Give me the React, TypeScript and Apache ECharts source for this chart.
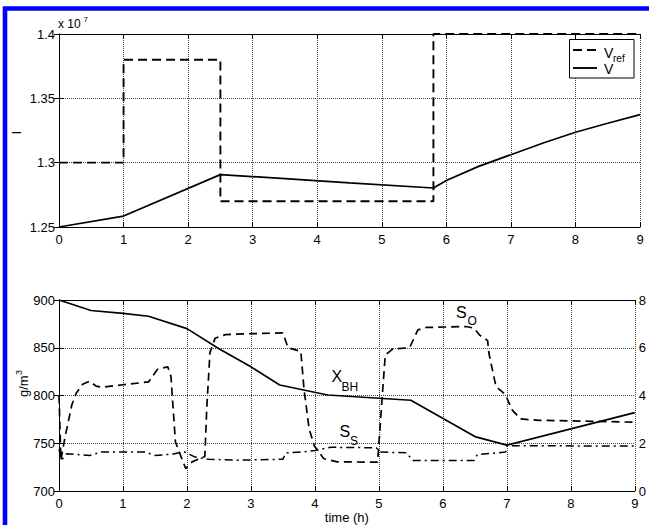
import React, { useEffect, useRef } from 'react';
import * as echarts from 'echarts';

// ---------- Data ----------
// Top panel (values in units of 1e7)
const tVref = [0, 1, 1, 2.5, 2.5, 5.8, 5.8, 9];
const vRef = [1.3, 1.3, 1.38, 1.38, 1.27, 1.27, 1.4, 1.4];
const tV = [0, 1, 2.5, 3.5, 4.5, 5.8, 6, 6.5, 7, 7.5, 8, 8.5, 9];
const vV = [1.25, 1.2585, 1.2907, 1.2876, 1.2843, 1.2803, 1.2862, 1.2971, 1.3062, 1.3153, 1.3236, 1.3306, 1.3373];

// Bottom panel
const tX = [0, 0.5, 1, 1.4, 2, 2.5, 3, 3.45, 4.2, 5.5, 6.5, 7, 8, 9];
const xBH = [900, 889, 886, 883, 870, 849, 830, 811, 800.5, 795, 757, 748, 765, 782];

const tSO = [0, 0.03, 0.09, 0.2, 0.27, 0.37, 0.48, 0.58, 0.68, 1.0, 1.4, 1.54, 1.7, 1.75, 1.82, 1.98, 2.08, 2.28, 2.31, 2.36, 2.44, 2.6, 3.0, 3.5, 3.58, 3.78, 3.83, 3.91, 3.99, 4.14, 4.35, 4.98, 5.04, 5.1, 5.22, 5.48, 5.61, 5.74, 6.36, 6.49, 6.57, 6.7, 6.72, 6.83, 6.98, 7.08, 7.21, 7.5, 8.33, 9];
const sO = [4.0, 1.3, 2.2, 3.6, 4.1, 4.47, 4.6, 4.39, 4.35, 4.45, 4.57, 5.1, 5.2, 4.8, 2.05, 0.94, 1.22, 1.45, 3.5, 5.8, 6.4, 6.55, 6.59, 6.62, 6.0, 5.85, 4.26, 2.6, 1.9, 1.35, 1.22, 1.21, 3.5, 5.7, 5.95, 6.0, 6.75, 6.85, 6.89, 6.82, 6.54, 6.3, 5.77, 4.38, 4.03, 3.41, 3.02, 2.96, 2.92, 2.88];

const tSS = [0, 0.04, 0.12, 0.48, 0.66, 1.36, 1.49, 1.77, 1.95, 2.13, 2.34, 2.8, 3.5, 3.55, 3.78, 4.0, 4.25, 4.96, 5.02, 5.43, 5.53, 6.49, 6.54, 6.98, 7.0, 9];
const sS = [1.75, 1.3, 1.56, 1.49, 1.63, 1.63, 1.49, 1.54, 1.65, 1.42, 1.33, 1.29, 1.33, 1.6, 1.63, 1.7, 1.83, 1.81, 1.63, 1.6, 1.28, 1.28, 1.53, 1.63, 1.9, 1.88];

const topYTicks = { min: 1.25, max: 1.4, interval: 0.05 };
const leftYTicks = { min: 700, max: 900, interval: 50 };
const rightYTicks = { min: 0, max: 8, interval: 2 };
const xTicks = { min: 0, max: 9, interval: 1 };

const zip = (xs: number[], ys: number[]) => xs.map((x, i) => [x, ys[i]]);

const FONT = "'Liberation Sans', Arial, Helvetica, sans-serif";

const txt = (text: string, x: number, y: number, fontSize: number, extra: any = {}) => ({
  type: 'text', x, y, silent: true, ...extra,
  style: { text, fontSize, fontFamily: FONT, fill: '#000', verticalAlign: 'top', align: 'left' },
});

export default function App() {
  const ref = useRef<HTMLDivElement>(null);
  useEffect(() => {
    document.body.style.margin = '0';
    const chart = echarts.init(ref.current!, null, { renderer: 'svg' });

    const mkGrid = () => ({
      show: true,
      showMinLine: true,
      showMaxLine: true,
      lineStyle: { color: '#444', width: 1, type: 'dotted', opacity: 1 },
    });
    const tick = { show: true, inside: true, length: 5, lineStyle: { color: '#000', width: 1 } };
    const axisLine = { show: true, lineStyle: { color: '#000', width: 1 } };
    const lbl = { color: '#000', fontSize: 13, fontFamily: FONT };
    const noLabel = { show: false };
    const noSplit = { show: false };

    const option: any = {
      animation: false,
      backgroundColor: '#fff',
      grid: [
        { left: 59, top: 34, width: 581, height: 193 },
        { left: 59, top: 300, width: 581, height: 192.5 },
      ],
      xAxis: [
        { gridIndex: 0, type: 'value', ...xTicks, axisLine, axisTick: tick, axisLabel: { ...lbl, margin: 6 }, splitLine: mkGrid() },
        { gridIndex: 0, type: 'value', position: 'top', ...xTicks, axisLine, axisTick: tick, axisLabel: noLabel, splitLine: noSplit },
        {
          gridIndex: 1, type: 'value', ...xTicks, axisLine, axisTick: tick, axisLabel: { ...lbl, margin: 6 }, splitLine: mkGrid(),
          name: 'time (h)', nameLocation: 'middle', nameGap: 20, nameTextStyle: { color: '#000', fontSize: 13, fontFamily: FONT },
        },
        { gridIndex: 1, type: 'value', position: 'top', ...xTicks, axisLine, axisTick: tick, axisLabel: noLabel, splitLine: noSplit },
      ],
      yAxis: [
        {
          gridIndex: 0, type: 'value', ...topYTicks, axisLine, axisTick: tick,
          axisLabel: { ...lbl, margin: 4, formatter: (v: number) => String(+v.toFixed(2)) },
          splitLine: mkGrid(),
        },
        { gridIndex: 0, type: 'value', position: 'right', ...topYTicks, axisLine, axisTick: tick, axisLabel: noLabel, splitLine: noSplit },
        {
          gridIndex: 1, type: 'value', ...leftYTicks, axisLine, axisTick: tick,
          axisLabel: { ...lbl, margin: 4 }, splitLine: mkGrid(),
        },
        {
          gridIndex: 1, type: 'value', position: 'right', ...rightYTicks, axisLine, axisTick: tick,
          axisLabel: { ...lbl, margin: 4 }, splitLine: noSplit,
        },
      ],
      series: [
        {
          name: 'V_ref', type: 'line', xAxisIndex: 0, yAxisIndex: 0, data: zip(tVref, vRef),
          symbol: 'none', showSymbol: false, z: 3, lineStyle: { color: '#000', width: 1.9, type: [9, 5] },
        },
        {
          name: 'V', type: 'line', xAxisIndex: 0, yAxisIndex: 0, data: zip(tV, vV),
          symbol: 'none', showSymbol: false, z: 3, lineStyle: { color: '#000', width: 1.7 },
        },
        {
          name: 'X_BH', type: 'line', xAxisIndex: 2, yAxisIndex: 2, data: zip(tX, xBH),
          symbol: 'none', showSymbol: false, z: 3, lineStyle: { color: '#000', width: 1.7 },
        },
        {
          name: 'S_O', type: 'line', xAxisIndex: 2, yAxisIndex: 3, data: zip(tSO, sO),
          symbol: 'none', showSymbol: false, z: 3, lineStyle: { color: '#000', width: 1.7, type: [8, 5] },
        },
        {
          name: 'S_S', type: 'line', xAxisIndex: 2, yAxisIndex: 3, data: zip(tSS, sS),
          symbol: 'none', showSymbol: false, z: 3, lineStyle: { color: '#000', width: 1.5, type: [8, 4, 2, 4] },
        },
      ],
      graphic: [
        // blue frame
        { type: 'rect', z: 100, silent: true, shape: { x: 5, y: 8.5, width: 700, height: 600 }, style: { fill: 'none', stroke: '#0000ff', lineWidth: 4.6 } },
        // multiplier
        txt('x 10', 58, 18, 12),
        txt('7', 83.5, 15.5, 8),
        // y-axis labels (rotated)
        txt('I', 10, 134.5, 13, { rotation: Math.PI / 2 }),
        txt('g/m', 16.5, 397, 13, { rotation: Math.PI / 2 }),
        txt('3', 14, 375, 9, { rotation: Math.PI / 2 }),
        // legend
        { type: 'rect', z: 50, silent: true, shape: { x: 569.5, y: 39.5, width: 64.5, height: 38.5 }, style: { fill: '#fff', stroke: '#000', lineWidth: 1 } },
        { type: 'line', z: 51, silent: true, shape: { x1: 573, y1: 50, x2: 597, y2: 50 }, style: { stroke: '#000', lineWidth: 1.9, lineDash: [9, 5] } },
        { type: 'line', z: 51, silent: true, shape: { x1: 573, y1: 68, x2: 597, y2: 68 }, style: { stroke: '#000', lineWidth: 1.9 } },
        txt('V', 604, 46.2, 14, { z: 51 }),
        txt('ref', 613, 53.5, 10, { z: 51 }),
        txt('V', 604, 62.2, 14, { z: 51 }),
        // annotations
        txt('S', 456, 304.8, 16),
        txt('O', 467.5, 314.8, 12),
        txt('X', 331.5, 368.2, 16),
        txt('BH', 341.5, 380.5, 12),
        txt('S', 339.5, 423.2, 16),
        txt('S', 350, 434.8, 12),
      ],
    };

    chart.setOption(option);
    return () => chart.dispose();
  }, []);
  return <div ref={ref} style={{ width: 649, height: 525 }} />;
}
